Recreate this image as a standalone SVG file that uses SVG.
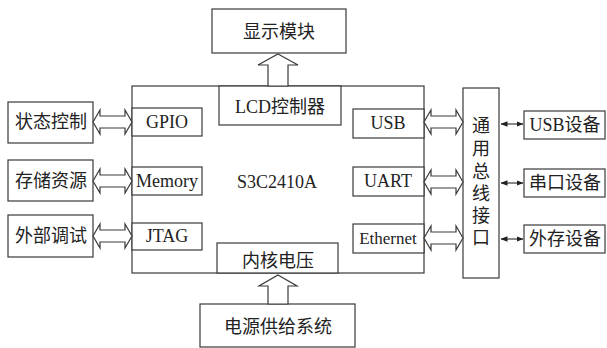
<svg xmlns="http://www.w3.org/2000/svg" width="607" height="348" viewBox="0 0 607 348">
<style>
.b{fill:#fff;stroke:#3a3a3a;stroke-width:1.2}
.a{fill:#fff;stroke:#3a3a3a;stroke-width:1.2;stroke-linejoin:miter}
.t{font-family:"Liberation Serif","Noto Sans CJK SC",serif;font-size:18px;fill:#222;text-anchor:middle;dominant-baseline:central}
.l{stroke:#3a3a3a;stroke-width:1.2;fill:none}
</style>
<defs>
<marker id="h" viewBox="0 0 7 7" refX="6.5" refY="3.5" markerWidth="7" markerHeight="7" markerUnits="userSpaceOnUse" orient="auto-start-reverse">
<path d="M0,0.8 L7,3.5 L0,6.2 z" fill="#222"/>
</marker>
</defs>
<rect width="607" height="348" fill="#fff"/>
<g id="display"><rect class="b" x="212" y="9" width="134" height="44"/><text class="t" x="279" y="32">显示模块</text></g>
<g id="soc"><rect class="b" x="132" y="86" width="292" height="187"/><text class="t" x="277" y="182">S3C2410A</text></g>
<g id="lcd"><rect class="b" x="219" y="86" width="122" height="39"/><text class="t" x="280" y="107">LCD控制器</text></g>
<g id="core"><rect class="b" x="217" y="243" width="121" height="30"/><text class="t" x="278" y="261">内核电压</text></g>
<g id="power"><rect class="b" x="200" y="304" width="155" height="43"/><text class="t" x="278" y="327">电源供给系统</text></g>
<g id="gpio"><rect class="b" x="132" y="108" width="70" height="28"/><text class="t" x="167" y="122">GPIO</text></g>
<g id="memory"><rect class="b" x="132" y="167" width="70" height="28"/><text class="t" x="167" y="181">Memory</text></g>
<g id="jtag"><rect class="b" x="132" y="223" width="70" height="27"/><text class="t" x="167" y="236">JTAG</text></g>
<g id="usb"><rect class="b" x="353" y="109" width="71" height="29"/><text class="t" x="388" y="123">USB</text></g>
<g id="uart"><rect class="b" x="353" y="167" width="71" height="29"/><text class="t" x="388" y="181">UART</text></g>
<g id="ethernet"><rect class="b" x="353" y="224" width="71" height="29"/><text class="t" x="388" y="238" style="font-size:17px">Ethernet</text></g>
<g id="state"><rect class="b" x="8" y="102" width="85" height="41"/><text class="t" x="51" y="122">状态控制</text></g>
<g id="storage"><rect class="b" x="8" y="160" width="85" height="41"/><text class="t" x="51" y="181">存储资源</text></g>
<g id="debug"><rect class="b" x="8" y="215" width="85" height="42"/><text class="t" x="51" y="236">外部调试</text></g>
<g id="bus"><rect class="b" x="463" y="88" width="36" height="190"/>
<text class="t" x="481" y="126">通</text><text class="t" x="481" y="149">用</text><text class="t" x="481" y="172">总</text><text class="t" x="481" y="194">线</text><text class="t" x="481" y="216">接</text><text class="t" x="481" y="238">口</text></g>
<g id="usbdev"><rect class="b" x="524" y="111" width="81" height="28"/><text class="t" x="565" y="125">USB设备</text></g>
<g id="serial"><rect class="b" x="524" y="169" width="81" height="28"/><text class="t" x="565" y="183">串口设备</text></g>
<g id="extstore"><rect class="b" x="524" y="225" width="81" height="28"/><text class="t" x="565" y="239">外存设备</text></g>
<g id="connectors">
<path class="a" d="M278,54 L298,65 L288,65 L288,86 L268,86 L268,65 L258,65 z"/>
<path class="a" d="M278,275 L297,286 L288,286 L288,304 L268,304 L268,286 L259,286 z"/>
<path class="a" d="M93,122 L100,110 L100,116 L125,116 L125,110 L132,122 L125,134 L125,128 L100,128 L100,134 z"/>
<path class="a" d="M93,181 L100,169 L100,175 L125,175 L125,169 L132,181 L125,193 L125,187 L100,187 L100,193 z"/>
<path class="a" d="M93,236 L100,224 L100,230 L125,230 L125,224 L132,236 L125,248 L125,242 L100,242 L100,248 z"/>
<path class="a" d="M424,122 L431,110 L431,116 L456,116 L456,110 L463,122 L456,134 L456,128 L431,128 L431,134 z"/>
<path class="a" d="M424,182 L431,170 L431,176 L456,176 L456,170 L463,182 L456,194 L456,188 L431,188 L431,194 z"/>
<path class="a" d="M424,238 L431,226 L431,232 L456,232 L456,226 L463,238 L456,250 L456,244 L431,244 L431,250 z"/>
<line class="l" x1="501" y1="124" x2="523" y2="124" marker-start="url(#h)" marker-end="url(#h)"/>
<line class="l" x1="501" y1="183" x2="523" y2="183" marker-start="url(#h)" marker-end="url(#h)"/>
<line class="l" x1="501" y1="239" x2="523" y2="239" marker-start="url(#h)" marker-end="url(#h)"/>
</g>
</svg>
